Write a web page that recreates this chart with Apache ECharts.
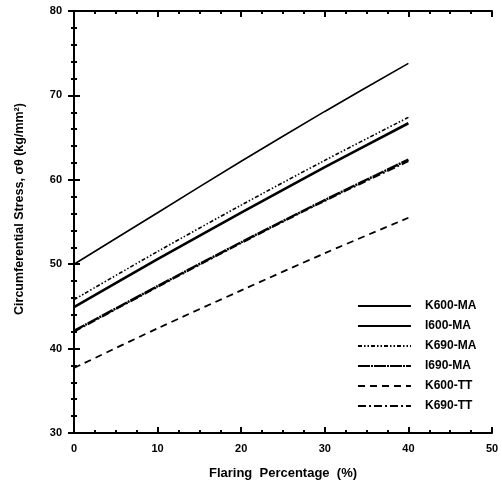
<!DOCTYPE html>
<html>
<head>
<meta charset="utf-8">
<script src="https://cdn.jsdelivr.net/npm/echarts@6/dist/echarts.min.js"></script>
<style>
    html, body { margin: 0; padding: 0; background: #fff; }
    #chart { width: 502px; height: 491px; }
</style>
</head>
<body>
<div id="chart"></div>
<script>
// flaring percentage (%)
var xdata = [0, 10, 20, 30, 40];
// circumferential stress (kg/mm2)
var k600MA = [44.9, 50.6, 56.1, 61.5, 66.7];
var i600MA = [50.0, 56.1, 62.2, 68.1, 73.8];
var k690MA = [45.8, 51.5, 57.0, 62.3, 67.4];
var i690MA = [42.1, 47.4, 52.6, 57.6, 62.4];
var k600TT = [37.7, 42.4, 46.9, 51.3, 55.5];
var k690TT = [42.0, 47.3, 52.5, 57.5, 62.2];
var names = ['K600-MA', 'I600-MA', 'K690-MA', 'I690-MA', 'K600-TT', 'K690-TT'];

(function () {
    var myChart = echarts.init(document.getElementById('chart'));
    var font = 'Liberation Sans';

    function pairs(vals) {
        return xdata.map(function (x, i) { return [x, vals[i]]; });
    }
    function line(name, vals, width, type) {
        return {
            name: name,
            type: 'line',
            smooth: 0.3,
            symbol: 'none',
            lineStyle: { color: '#000', width: width, type: type },
            itemStyle: { color: '#000' },
            data: pairs(vals)
        };
    }

    var option = {
        animation: false,
        backgroundColor: '#fff',
        grid: { left: 74, right: 10, top: 11, bottom: 58, show: false },
        legend: {
            data: names,
            orient: 'vertical',
            left: 352,
            top: 295,
            itemWidth: 53,
            itemHeight: 10,
            itemGap: 8,
            itemStyle: { opacity: 0 },
            textStyle: { color: '#000', fontFamily: font, fontWeight: 'bold', fontSize: 12, padding: [0, 0, 0, 9] }
        },
        xAxis: [{
            type: 'value',
            min: 0, max: 50, interval: 10,
            name: 'Flaring  Percentage  (%)',
            nameLocation: 'middle',
            nameGap: 34,
            nameTextStyle: { color: '#000', fontFamily: font, fontWeight: 'bold', fontSize: 13 },
            axisLine: { lineStyle: { color: '#000', width: 2 } },
            axisTick: { inside: true, length: 6, lineStyle: { color: '#000', width: 2 } },
            minorTick: { show: true, splitNumber: 4, length: 3, lineStyle: { color: '#000', width: 2 } },
            axisLabel: { color: '#000', fontFamily: font, fontWeight: 'bold', fontSize: 11, margin: 10 },
            splitLine: { show: false }
        }, {
            type: 'value', position: 'top',
            min: 0, max: 50, interval: 10,
            axisLine: { lineStyle: { color: '#000', width: 2 } },
            axisTick: { inside: true, length: 6, lineStyle: { color: '#000', width: 2 } },
            minorTick: { show: true, splitNumber: 4, length: 3, lineStyle: { color: '#000', width: 2 } },
            axisLabel: { show: false },
            splitLine: { show: false }
        }],
        yAxis: [{
            type: 'value',
            min: 30, max: 80, interval: 10,
            name: 'Circumferential Stress, σθ (kg/mm²)',
            nameLocation: 'middle',
            nameRotate: 90,
            nameGap: 48,
            nameTextStyle: { color: '#000', fontFamily: font, fontWeight: 'bold', fontSize: 12.5, padding: [0, 0, 0, 26] },
            axisLine: { lineStyle: { color: '#000', width: 2 } },
            axisTick: { inside: true, length: 6, lineStyle: { color: '#000', width: 2 } },
            minorTick: { show: true, splitNumber: 5, length: 3, lineStyle: { color: '#000', width: 2 } },
            axisLabel: { color: '#000', fontFamily: font, fontWeight: 'bold', fontSize: 11, margin: 12 },
            splitLine: { show: false }
        }, {
            type: 'value', position: 'right',
            min: 30, max: 80, interval: 10,
            axisLine: { lineStyle: { color: '#000', width: 2 } },
            axisTick: { inside: true, length: 6, lineStyle: { color: '#000', width: 2 } },
            minorTick: { show: true, splitNumber: 5, length: 3, lineStyle: { color: '#000', width: 2 } },
            axisLabel: { show: false },
            splitLine: { show: false }
        }],
        series: [
            line(names[0], k600MA, 2.6, 'solid'),
            line(names[1], i600MA, 1.6, 'solid'),
            line(names[2], k690MA, 1.6, [4, 2, 1.5, 2, 1.5, 2]),
            line(names[3], i690MA, 2.4, [12, 1, 2, 1]),
            line(names[4], k600TT, 1.8, [7, 5]),
            line(names[5], k690TT, 1.8, [8, 3, 2, 3])
        ]
    };

    myChart.setOption(option);
    window.addEventListener("resize", function () {
        myChart.resize();
    });
})();
</script>
</body>
</html>
